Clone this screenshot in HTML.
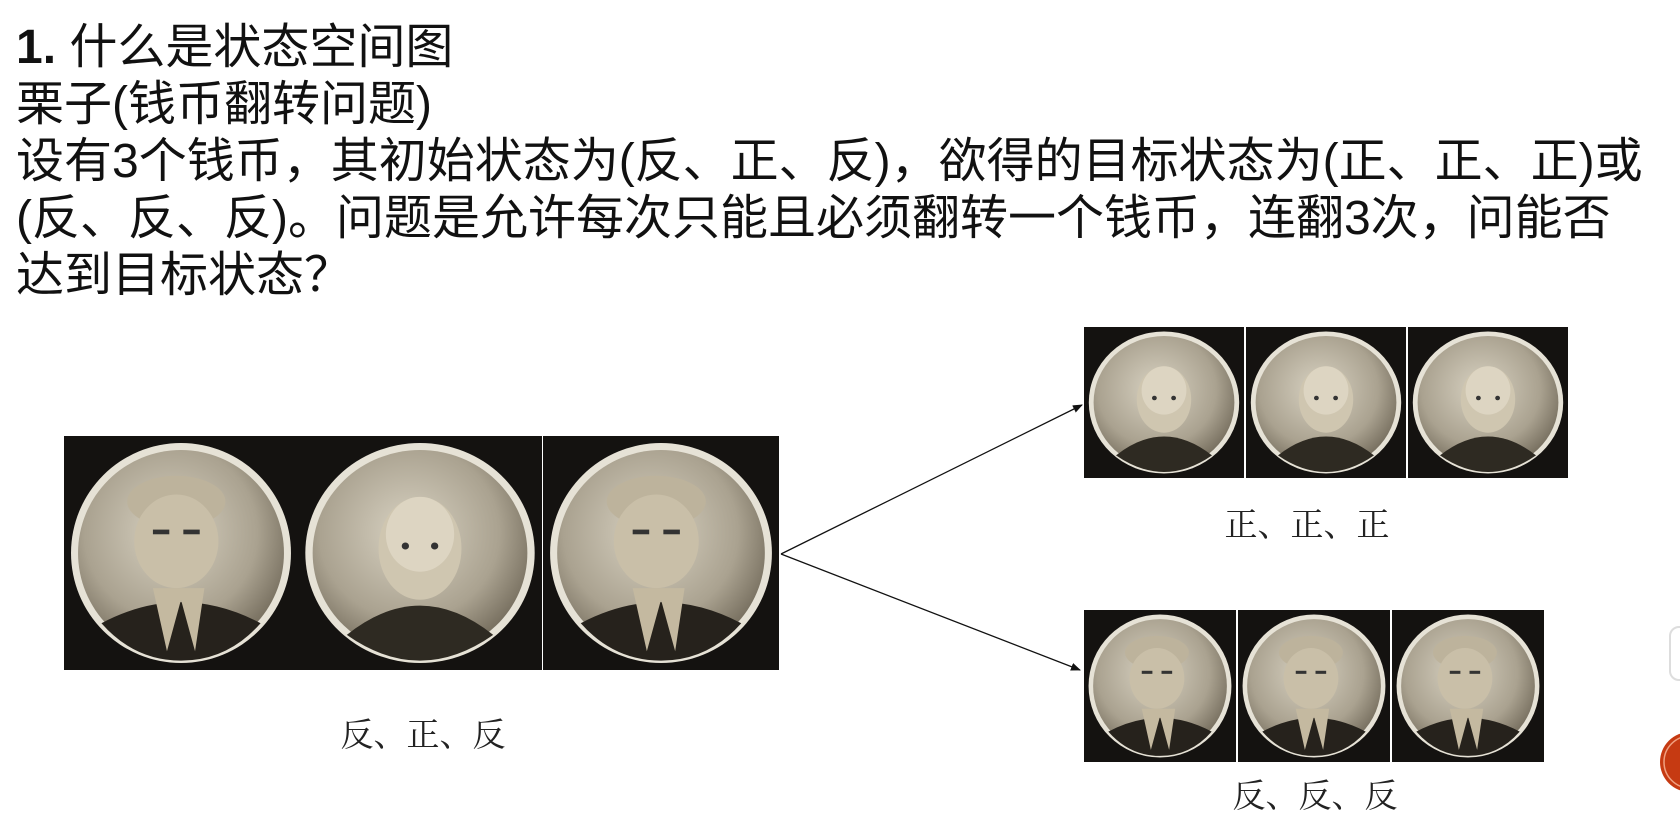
<!DOCTYPE html>
<html><head><meta charset="utf-8"><style>
html,body{margin:0;padding:0;background:#fff;width:1680px;height:813px;overflow:hidden}
.t{position:absolute;left:16px;font-family:"Liberation Sans","Noto Sans CJK SC",sans-serif;font-size:48px;color:#111;white-space:nowrap;line-height:57px}
</style></head><body>
<div class="t" style="top:19px"><b>1.</b> 什么是状态空间图</div>
<div class="t" style="top:76px">栗子(钱币翻转问题)</div>
<div class="t" style="top:133px">设有3个钱币，其初始状态为(反、正、反)，欲得的目标状态为(正、正、正)或</div>
<div class="t" style="top:190px">(反、反、反)。问题是允许每次只能且必须翻转一个钱币，连翻3次，问能否</div>
<div class="t" style="top:247px">达到目标状态？</div>
<svg width="1680" height="813" style="position:absolute;left:0;top:0">
<defs>
<radialGradient id="sil" cx="45%" cy="40%" r="60%"><stop offset="0" stop-color="#d8d2c2"/><stop offset="0.7" stop-color="#aaa290"/><stop offset="1" stop-color="#7a7262"/></radialGradient>
<g id="coinF">
<rect x="0" y="0" width="100" height="100" fill="#141210"/>
<circle cx="50" cy="50" r="47" fill="#e6e2d6"/>
<circle cx="50" cy="50" r="44" fill="url(#sil)"/>
<path d="M20 85 Q50 60 80 85 Q65 96 50 96 Q35 96 20 85Z" fill="#2e2a22"/>
<ellipse cx="50" cy="48" rx="17" ry="22" fill="#cfc6b0"/>
<ellipse cx="50" cy="42" rx="14" ry="16" fill="#ddd5c2"/>
<circle cx="44" cy="47" r="1.5" fill="#333"/><circle cx="56" cy="47" r="1.5" fill="#333"/>
</g>
<g id="coinB">
<rect x="0" y="0" width="100" height="100" fill="#141210"/>
<circle cx="50" cy="50" r="47" fill="#e6e2d6"/>
<circle cx="50" cy="50" r="44" fill="url(#sil)"/>
<path d="M16 80 Q50 62 84 80 Q70 96 50 96 Q30 96 16 80Z" fill="#26221c"/>
<ellipse cx="48" cy="28" rx="21" ry="11" fill="#bdb39c"/>
<ellipse cx="48" cy="45" rx="18" ry="20" fill="#c9bfa8"/>
<path d="M38 65 L44 92 L50 70 L56 92 L60 65Z" fill="#c4b9a0"/>
<rect x="38" y="40" width="7" height="2" fill="#333"/><rect x="51" y="40" width="7" height="2" fill="#333"/>
</g>
<marker id="ah" markerWidth="10" markerHeight="8" refX="9" refY="4" orient="auto" markerUnits="userSpaceOnUse"><path d="M0 0L10 4L0 8Z" fill="#111"/></marker>
</defs>
<use href="#coinB" transform="translate(64,436) scale(2.34,2.34)"/>
<use href="#coinF" transform="translate(298,436) scale(2.44,2.34)"/>
<use href="#coinB" transform="translate(543,436) scale(2.36,2.34)"/>
<use href="#coinF" transform="translate(1084,327) scale(1.6,1.51)"/>
<use href="#coinF" transform="translate(1246,327) scale(1.6,1.51)"/>
<use href="#coinF" transform="translate(1408,327) scale(1.6,1.51)"/>
<use href="#coinB" transform="translate(1084,610) scale(1.52,1.52)"/>
<use href="#coinB" transform="translate(1238,610) scale(1.52,1.52)"/>
<use href="#coinB" transform="translate(1392,610) scale(1.52,1.52)"/>
<line x1="781" y1="554" x2="1082" y2="405" stroke="#111" stroke-width="1.3" marker-end="url(#ah)"/>
<line x1="781" y1="554" x2="1080" y2="670" stroke="#111" stroke-width="1.3" marker-end="url(#ah)"/>
<g font-family="Liberation Serif,'Noto Serif CJK SC',serif" font-size="33" fill="#222" text-anchor="middle">
<text x="423" y="746">反、正、反</text>
<text x="1307" y="536">正、正、正</text>
<text x="1315" y="807">反、反、反</text>
</g>
<rect x="1670" y="627" width="20" height="53" rx="9" fill="#fff" stroke="#ddd" stroke-width="2"/>
<circle cx="1690" cy="762" r="30" fill="#c63a12"/>
<circle cx="1690" cy="762" r="26" fill="none" stroke="#f0a080" stroke-width="1.5"/>
</svg>
</body></html>
